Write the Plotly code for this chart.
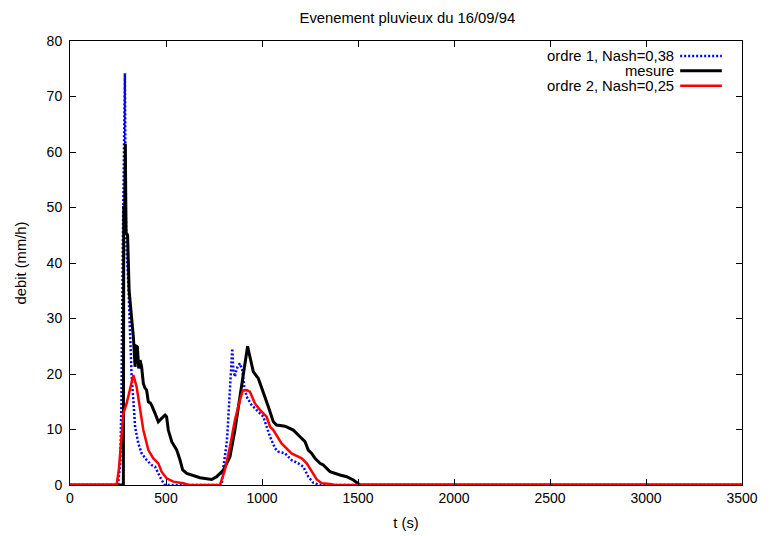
import plotly.graph_objects as go

# ---- data ----
t_ordre1 = [0, 250, 262, 268, 274, 280, 286, 290, 295, 304, 309, 316, 321, 330, 339, 356, 373, 399, 425, 443,
            460, 477, 495, 790, 799, 807, 816, 821, 828, 833, 839, 845, 851, 859, 865, 873, 885, 897, 908,
            920, 946, 972, 1007, 1024, 1042, 1068, 1085, 1120, 1154, 1189, 1215, 1241, 1267, 1300, 3500]
q_ordre1 = [0, 0, 4, 15, 40, 65, 74.2, 50, 42, 36, 30, 24, 19.5, 15.3, 10.5, 7.5, 5.7, 4.5, 3.6, 3.3,
            2.1, 0.9, 0, 0, 3.3, 5.1, 7.5, 9.9, 14.7, 18.5, 23.1, 24.6, 20.7, 19.5, 20.5, 21.3, 21.9, 20.7, 17.7,
            15.9, 14.4, 13.5, 12.3, 10.5, 8.7, 6.6, 6.0, 5.7, 4.5, 3.9, 3.3, 1.5, 0.4, 0, 0]

t_mesure = [0, 278, 280, 285, 288, 292, 300, 308, 321, 330, 339, 346, 351, 358, 365, 373, 382, 390, 399, 408,
            418, 425, 443, 460, 477, 495, 503, 512, 530, 556, 573, 587, 608, 634, 677, 738, 764, 799, 833,
            859, 885, 908, 925, 937, 955, 981, 1007, 1033, 1059, 1076, 1120, 1163, 1198, 1224, 1241, 1259,
            1276, 1302, 1319, 1354, 1406, 1441, 1476, 1502, 1510, 3500]
q_mesure = [0, 0, 50, 50, 61.5, 45.5, 45, 35, 30, 26.7, 21.3, 25, 24.9, 21, 22.5, 21.3, 18.3, 17.5, 17.1, 15.0,
            14.8, 14.4, 12.9, 11.4, 12.0, 12.6, 12.3, 9.9, 7.8, 6.3, 4.5, 2.7, 2.1, 1.8, 1.3, 1.0, 1.5, 2.7, 5.1,
            9.9, 15.6, 21.3, 25.0, 23.1, 20.4, 19.2, 16.8, 14.1, 11.4, 10.8, 10.6, 9.9, 8.7, 7.8, 6.3, 5.7,
            4.8, 3.9, 3.6, 2.4, 1.8, 1.5, 0.9, 0.3, 0, 0]

t_ordre2 = [0, 243, 255, 268, 278, 295, 312, 330, 347, 365, 382, 408, 434, 460, 477, 503, 538, 590, 620,
            781, 807, 833, 859, 885, 900, 920, 937, 963, 990, 1024, 1042, 1059, 1094, 1102, 1154, 1207, 1233,
            1267, 1285, 1311, 1354, 1380, 3500]
q_ordre2 = [0, 0, 3, 9, 12.9, 14.7, 17.1, 19.8, 17.7, 13.5, 9.9, 6.3, 4.8, 3.9, 2.4, 1.2, 0.6, 0.3, 0,
            0, 2.7, 6.9, 11.7, 15.3, 17.0, 17.1, 16.8, 14.7, 13.5, 12.3, 10.5, 9.9, 8.1, 7.5, 5.7, 4.8, 3.9,
            2.0, 1.0, 0.3, 0.2, 0, 0]

legend_labels = ["ordre 1, Nash=0,38", "mesure", "ordre 2, Nash=0,25"]
x_ticks = [0, 500, 1000, 1500, 2000, 2500, 3000, 3500]
y_ticks = [0, 10, 20, 30, 40, 50, 60, 70, 80]

FONT = "Liberation Sans, Arial, Helvetica, sans-serif"
FS_TICK = 14
FS_TEXT = 14.8
BLUE, BLACK, RED = "#0000ff", "#000000", "#ff0000"

fig = go.Figure()
fig.add_trace(go.Scatter(x=t_ordre1, y=q_ordre1, mode="lines", name=legend_labels[0],
                         line=dict(color=BLUE, width=2.5, dash="2px,2px")))
fig.add_trace(go.Scatter(x=t_mesure, y=q_mesure, mode="lines", name=legend_labels[1],
                         line=dict(color=BLACK, width=3)))
fig.add_trace(go.Scatter(x=t_ordre2, y=q_ordre2, mode="lines", name=legend_labels[2],
                         line=dict(color=RED, width=2.5)))

# custom gnuplot-style legend (text right, sample on the right)
leg_styles = [dict(color=BLUE, width=2.5, dash="2px,2px"), dict(color=BLACK, width=3), dict(color=RED, width=2.5)]
leg_y = [0.966, 0.933, 0.899]
for lab, st, yy in zip(legend_labels, leg_styles, leg_y):
    fig.add_annotation(x=0.9015, y=yy, xref="paper", yref="paper", text=lab, showarrow=False,
                       xanchor="right", yanchor="middle", font=dict(family=FONT, size=FS_TEXT, color="black"))
    fig.add_shape(type="line", xref="paper", yref="paper", x0=0.908, x1=0.970, y0=yy, y1=yy, line=st)

axis_common = dict(showline=True, linecolor="black", linewidth=1, mirror="ticks", ticks="inside",
                   ticklen=6, tickcolor="black", tickwidth=1, showgrid=False, zeroline=False,
                   tickfont=dict(family=FONT, size=FS_TICK, color="black"))

# page body has an 8px margin: compensate so the plot area lands where the reference has it
fig.update_layout(
    width=777, height=536,
    margin=dict(l=62, r=43, t=33, b=59),
    paper_bgcolor="white", plot_bgcolor="white",
    showlegend=False,
    title=dict(text="Evenement pluvieux du 16/09/94", x=0.502, xref="paper", xanchor="center",
               y=1 - 10.0 / 536, yanchor="middle", yref="container",
               font=dict(family=FONT, size=FS_TEXT, color="black")),
    xaxis=dict(range=[0, 3500], tickvals=x_ticks, ticktext=[str(v) for v in x_ticks],
               title=dict(text="t (s)", font=dict(family=FONT, size=FS_TEXT, color="black"), standoff=12),
               **axis_common),
    yaxis=dict(range=[0, 80], tickvals=y_ticks, ticktext=[str(v) for v in y_ticks],
               ticklabelstandoff=4,
               title=dict(text="debit (mm/h)", font=dict(family=FONT, size=FS_TEXT, color="black"), standoff=16),
               **axis_common),
)

fig.write_html("out.html")
